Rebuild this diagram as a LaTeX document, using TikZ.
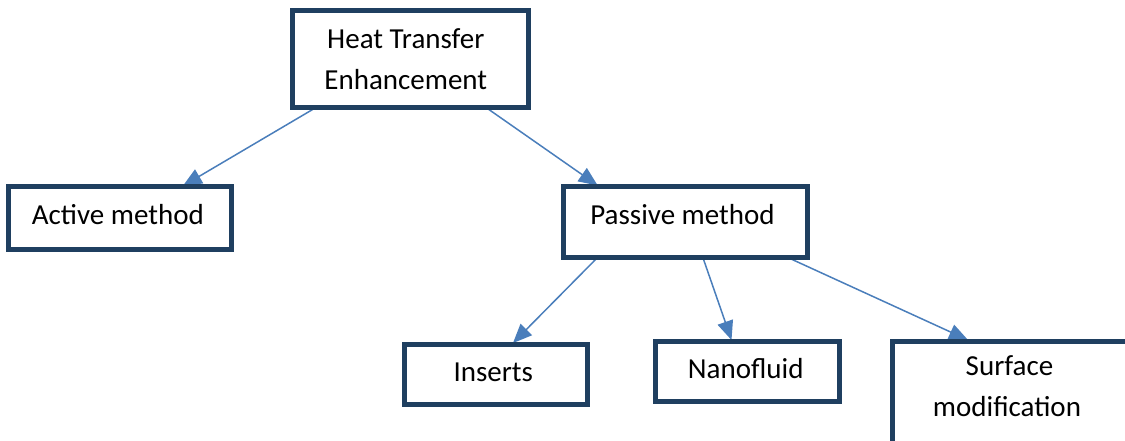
\documentclass[tikz,border=0pt]{standalone}
\usepackage{fontspec}
\setmainfont{Carlito}
\usetikzlibrary{arrows.meta}
\definecolor{boxline}{HTML}{1F3F60}
\definecolor{arrowblue}{HTML}{4A7EBB}
\tikzset{
  box/.style={rectangle, inner sep=0pt, outer sep=0pt},
  frame/.style={draw=boxline, line width=5pt},
  lbl/.style={anchor=base, inner sep=0pt, font=\fontsize{29}{35}\selectfont, text=black},
  link/.style={draw=arrowblue, line width=1.5pt, -{Triangle[length=19pt,width=16pt]}}
}
\begin{document}
\begin{tikzpicture}[x=1pt, y=-1pt]
  \useasboundingbox (0,0) rectangle (1125,441);

  % box areas (outlines drawn later, text set separately)
  \path
    node[box, minimum width=235.5pt, minimum height=96.7pt] (heat)    at (410.25,59.15) {}
    node[box, minimum width=222.2pt, minimum height=62pt]   (active)  at (119.9,218) {}
    node[box, minimum width=243.8pt, minimum height=70.5pt] (passive) at (685.6,221.75) {}
    node[box, minimum width=183.5pt, minimum height=60.5pt] (inserts) at (495.75,374.25) {}
    node[box, minimum width=184.2pt, minimum height=60.5pt] (nano)    at (747.6,371.25) {}
    node[box, minimum width=260pt,   minimum height=130pt]  (surface) at (1022,406) {};

  % connectors
  \draw[link] ([xshift=23.5pt]heat.south west) -- ([xshift=174pt,yshift=1pt]active.north west);
  \draw[link] ([xshift=193.5pt]heat.south west) -- ([xshift=34pt,yshift=1pt]passive.north west);
  \draw[link] ([xshift=34.3pt]passive.south west) -- ([xshift=109pt,yshift=1pt]inserts.north west);
  \draw[link] ([xshift=139pt]passive.south west) -- ([xshift=76pt,yshift=1pt]nano.north west);
  \draw[link] ([xshift=223pt]passive.south west) -- ([xshift=76pt,yshift=1pt]surface.north west);

  % frames drawn over the arrow ends
  \foreach \n in {heat, active, passive, inserts, nano, surface}
    \draw[frame] (\n.north west) rectangle (\n.south east);

  % labels
  \node[lbl] (heatA)    at (405.8,48.3)  {Heat Transfer};
  \node[lbl] (heatB)    at (405.8,90)    {Enhancement};
  \node[lbl] (activeT)  at (117.8,224.3) {Active method};
  \node[lbl] (passiveT) at (682.5,224)   {Passive method};
  \node[lbl] (insertsT) at (493.3,381.7) {Inserts};
  \node[lbl] (nanoT)    at (745.8,378.3) {Nanofluid};
  \node[lbl] (surfA)    at (1009.5,375)  {Surface};
  \node[lbl] (surfB)    at (1007,416.7)  {modification};
\end{tikzpicture}
\end{document}
